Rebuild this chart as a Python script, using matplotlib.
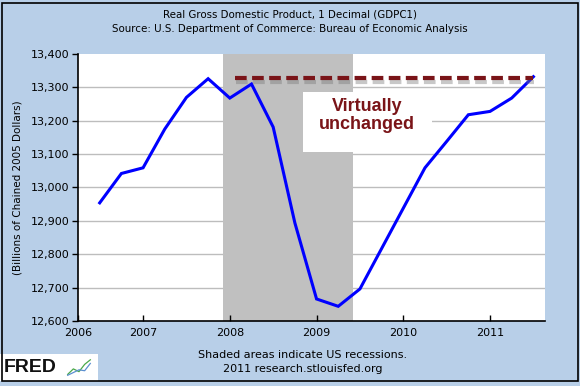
import matplotlib.pyplot as plt
import matplotlib.patheffects as pe
from matplotlib.patches import Rectangle
from matplotlib.ticker import FuncFormatter

# quarterly real GDP, billions of chained 2005 dollars
quarters = [2006.50, 2006.75, 2007.00, 2007.25, 2007.50, 2007.75,
            2008.00, 2008.25, 2008.50, 2008.75, 2009.00, 2009.25,
            2009.50, 2009.75, 2010.00, 2010.25, 2010.50, 2010.75,
            2011.00, 2011.25, 2011.50]
gdp = [12954, 13042, 13059, 13175, 13270, 13326,
       13268, 13310, 13181, 12894, 12666, 12644,
       12696, 12817, 12938, 13059, 13138, 13218,
       13228, 13268, 13332]

recession = (2007.917, 2009.417)
peak_level = 13328
peak_span = (2008.06, 2011.50)
year_ticks = [2006.25, 2007, 2008, 2009, 2010, 2011]
year_labels = ["2006", "2007", "2008", "2009", "2010", "2011"]
y_ticks = list(range(12600, 13401, 100))

BG = "#b8cfe8"
DARKRED = "#7a1418"

fig = plt.figure(figsize=(5.8, 3.86), dpi=100, facecolor=BG)
ax = fig.add_axes([0.1345, 0.1684, 0.9397 - 0.1345, 0.8601 - 0.1684])
ax.set_facecolor("white")

ax.axvspan(*recession, color="#c0c0c0", lw=0, zorder=1)
ax.hlines(y_ticks[1:-1], 2006.25, 2011.634, color="#bdbdbd", lw=1, zorder=0.5)

ax.plot(quarters, gdp, color="#0000ff", lw=2.2, zorder=4, solid_joinstyle="miter")

ax.hlines(peak_level, *peak_span, color=DARKRED, lw=3, linestyles=(0, (2.8, 1.3)),
          zorder=5,
          path_effects=[pe.SimpleLineShadow(offset=(0.5, -3), shadow_color="#777777", alpha=0.4),
                        pe.Normal()])

ax.add_patch(Rectangle((2008.84, 13107), 2010.33 - 2008.84, 13287 - 13107,
                       facecolor="white", edgecolor="none", zorder=3))
ax.text(2009.58, 13215, "Virtually\nunchanged", ha="center", va="center",
        fontsize=13, fontweight="bold", family="Liberation Sans",
        color=DARKRED, linespacing=1.05, zorder=6)

ax.set_xlim(2006.25, 2011.634)
ax.set_ylim(12600, 13400)
ax.set_xticks(year_ticks)
ax.set_xticklabels(year_labels)
ax.set_yticks(y_ticks)
ax.yaxis.set_major_formatter(FuncFormatter(lambda v, p: f"{int(v):,}"))
ax.tick_params(axis="y", direction="out", length=4, width=1, labelsize=8, pad=2)
ax.tick_params(axis="x", direction="in", length=4, width=1, labelsize=8, pad=5)
for s in ("top", "right"):
    ax.spines[s].set_visible(False)
for s in ("left", "bottom"):
    ax.spines[s].set_linewidth(1.2)
ax.set_ylabel("(Billions of Chained 2005 Dollars)", fontsize=7.5, labelpad=6)

fig.text(0.5, 0.962, "Real Gross Domestic Product, 1 Decimal (GDPC1)",
         ha="center", va="center", fontsize=7.4)
fig.text(0.5, 0.924, "Source: U.S. Department of Commerce: Bureau of Economic Analysis",
         ha="center", va="center", fontsize=7.4)
fig.text(303 / 580, 1 - 355 / 386, "Shaded areas indicate US recessions.",
         ha="center", va="center", fontsize=8)
fig.text(303 / 580, 1 - 369 / 386, "2011 research.stlouisfed.org",
         ha="center", va="center", fontsize=8)

# FRED logo block
fig.patches.append(Rectangle((0.0, 1 - 381 / 386), 98 / 580, 27 / 386,
                             transform=fig.transFigure, facecolor="white",
                             edgecolor="none", zorder=1))
fig.text(4 / 580, 1 - 368 / 386, "FRED", ha="left", va="center", fontsize=14,
         fontweight="heavy", family="Liberation Sans", color="#111111", zorder=2)
logo = fig.add_axes([66 / 580, 1 - 378 / 386, 26 / 580, 20 / 386], zorder=5)
logo.patch.set_alpha(0)
logo.plot([0, 1, 2, 3, 4], [0.2, 0.8, 0.5, 1.3, 1.8], color="#4aa84a", lw=0.9)
logo.plot([0, 1, 2, 3, 4], [0.1, 0.4, 0.7, 0.6, 1.4], color="#5b8fd0", lw=0.9)
logo.set_xlim(-0.3, 4.3)
logo.set_ylim(-0.2, 2.0)
logo.axis("off")

# outer frame
fig.patches.append(Rectangle((0.004, 0.013), 0.992, 0.98, transform=fig.transFigure,
                             facecolor="none", edgecolor="black", lw=1.2, zorder=3))

fig.savefig("out.png", dpi=100, facecolor=BG)
